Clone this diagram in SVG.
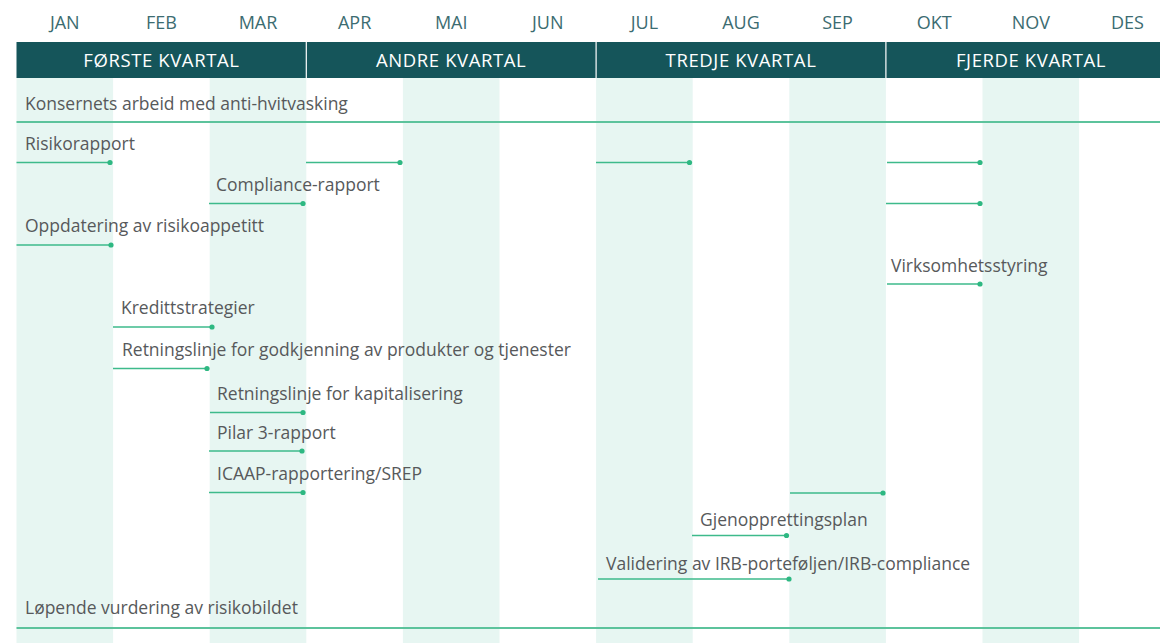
<svg xmlns="http://www.w3.org/2000/svg" width="1160" height="643" viewBox="0 0 1160 643">
  <style>
    .band { fill: #e7f6f2; }
    .month { font-family: "Open Sans", "Noto Sans", sans-serif; font-size: 18px; fill: #3c6c71; text-anchor: middle; }
    .quarter { font-family: "Open Sans", "Noto Sans", sans-serif; font-size: 18.5px; letter-spacing: 0.6px; fill: #ffffff; text-anchor: middle; }
    .label { font-family: "Open Sans", "Noto Sans", sans-serif; font-size: 17.5px; fill: #57595b; }
    .bar { stroke: #3dba8b; stroke-width: 1.7; fill: none; }
    .full { stroke: #5cc39c; stroke-width: 2; fill: none; }
    .dot { fill: #2eb882; }
  </style>

  <rect width="1160" height="643" fill="#ffffff"/>

  <!-- alternating month bands -->
  <g id="bands">
    <rect class="band" x="16.5" y="78" width="96.6" height="565"/>
    <rect class="band" x="209.7" y="78" width="96.6" height="565"/>
    <rect class="band" x="402.9" y="78" width="96.6" height="565"/>
    <rect class="band" x="596.1" y="78" width="96.6" height="565"/>
    <rect class="band" x="789.3" y="78" width="96.6" height="565"/>
    <rect class="band" x="982.5" y="78" width="96.6" height="565"/>
  </g>

  <!-- month labels -->
  <g id="months">
    <text class="month" x="64.8" y="28.5">JAN</text>
    <text class="month" x="161.4" y="28.5">FEB</text>
    <text class="month" x="258" y="28.5">MAR</text>
    <text class="month" x="354.6" y="28.5">APR</text>
    <text class="month" x="451.2" y="28.5">MAI</text>
    <text class="month" x="547.8" y="28.5">JUN</text>
    <text class="month" x="644.4" y="28.5">JUL</text>
    <text class="month" x="741" y="28.5">AUG</text>
    <text class="month" x="837.6" y="28.5">SEP</text>
    <text class="month" x="934.2" y="28.5">OKT</text>
    <text class="month" x="1030.8" y="28.5">NOV</text>
    <text class="month" x="1127.4" y="28.5">DES</text>
  </g>

  <!-- quarter header -->
  <g id="quarters">
    <rect x="16.5" y="42" width="1143.5" height="36" fill="#15555a"/>
    <line x1="306.3" y1="42" x2="306.3" y2="78" stroke="#ffffff" stroke-width="1.2"/>
    <line x1="596.1" y1="42" x2="596.1" y2="78" stroke="#ffffff" stroke-width="1.2"/>
    <line x1="885.9" y1="42" x2="885.9" y2="78" stroke="#ffffff" stroke-width="1.2"/>
    <text class="quarter" x="161.4" y="66.5">FØRSTE KVARTAL</text>
    <text class="quarter" x="451.2" y="66.5">ANDRE KVARTAL</text>
    <text class="quarter" x="741" y="66.5">TREDJE KVARTAL</text>
    <text class="quarter" x="1031" y="66.5">FJERDE KVARTAL</text>
  </g>

  <!-- activity labels -->
  <g id="n-antihvitvasking"><text class="label" x="25" y="110">Konsernets arbeid med anti-hvitvasking</text></g>
  <g id="n-risikorapport"><text class="label" x="25" y="150">Risikorapport</text></g>
  <g id="n-compliance"><text class="label" x="216" y="191">Compliance-rapport</text></g>
  <g id="n-risikoappetitt"><text class="label" x="25" y="232">Oppdatering av risikoappetitt</text></g>
  <g id="n-virksomhetsstyring"><text class="label" x="891" y="272">Virksomhetsstyring</text></g>
  <g id="n-kredittstrategier"><text class="label" x="121" y="314">Kredittstrategier</text></g>
  <g id="n-godkjenning"><text class="label" x="122" y="356">Retningslinje for godkjenning av produkter og tjenester</text></g>
  <g id="n-kapitalisering"><text class="label" x="217" y="400">Retningslinje for kapitalisering</text></g>
  <g id="n-pilar3"><text class="label" x="217" y="439">Pilar 3-rapport</text></g>
  <g id="n-icaap"><text class="label" x="217" y="480">ICAAP-rapportering/SREP</text></g>
  <g id="n-gjenoppretting"><text class="label" x="700" y="526">Gjenopprettingsplan</text></g>
  <g id="n-irb"><text class="label" x="606" y="570">Validering av IRB-porteføljen/IRB-compliance</text></g>
  <g id="n-risikobildet"><text class="label" x="25" y="614">Løpende vurdering av risikobildet</text></g>

  <!-- timeline bars -->
  <g id="connectors">
    <line class="full" x1="16.5" y1="122" x2="1160" y2="122"/>
    <line class="full" x1="16.5" y1="628" x2="1160" y2="628"/>

    <line class="bar" x1="16.5" y1="162.5" x2="110" y2="162.5"/><circle class="dot" cx="110" cy="162.5" r="2.6"/>
    <line class="bar" x1="306" y1="162.5" x2="400" y2="162.5"/><circle class="dot" cx="400" cy="162.5" r="2.6"/>
    <line class="bar" x1="596" y1="162.5" x2="689.5" y2="162.5"/><circle class="dot" cx="689.5" cy="162.5" r="2.6"/>
    <line class="bar" x1="887" y1="162.5" x2="980" y2="162.5"/><circle class="dot" cx="980" cy="162.5" r="2.6"/>

    <line class="bar" x1="209" y1="203.5" x2="303" y2="203.5"/><circle class="dot" cx="303" cy="203.5" r="2.6"/>
    <line class="bar" x1="886" y1="203.5" x2="980" y2="203.5"/><circle class="dot" cx="980" cy="203.5" r="2.6"/>

    <line class="bar" x1="16.5" y1="245" x2="111" y2="245"/><circle class="dot" cx="111" cy="245" r="2.6"/>

    <line class="bar" x1="887" y1="284" x2="980" y2="284"/><circle class="dot" cx="980" cy="284" r="2.6"/>

    <line class="bar" x1="113" y1="327" x2="212" y2="327"/><circle class="dot" cx="212" cy="327" r="2.6"/>
    <line class="bar" x1="113" y1="368.5" x2="207" y2="368.5"/><circle class="dot" cx="207" cy="368.5" r="2.6"/>
    <line class="bar" x1="210" y1="412.5" x2="303" y2="412.5"/><circle class="dot" cx="303" cy="412.5" r="2.6"/>
    <line class="bar" x1="209" y1="451" x2="302" y2="451"/><circle class="dot" cx="302" cy="451" r="2.6"/>
    <line class="bar" x1="209" y1="492.5" x2="303" y2="492.5"/><circle class="dot" cx="303" cy="492.5" r="2.6"/>
    <line class="bar" x1="790" y1="493" x2="883" y2="493"/><circle class="dot" cx="883" cy="493" r="2.6"/>

    <line class="bar" x1="692" y1="535.5" x2="786.5" y2="535.5"/><circle class="dot" cx="786.5" cy="535.5" r="2.6"/>
    <line class="bar" x1="598" y1="579" x2="789" y2="579"/><circle class="dot" cx="789" cy="579" r="2.6"/>
  </g>
</svg>
